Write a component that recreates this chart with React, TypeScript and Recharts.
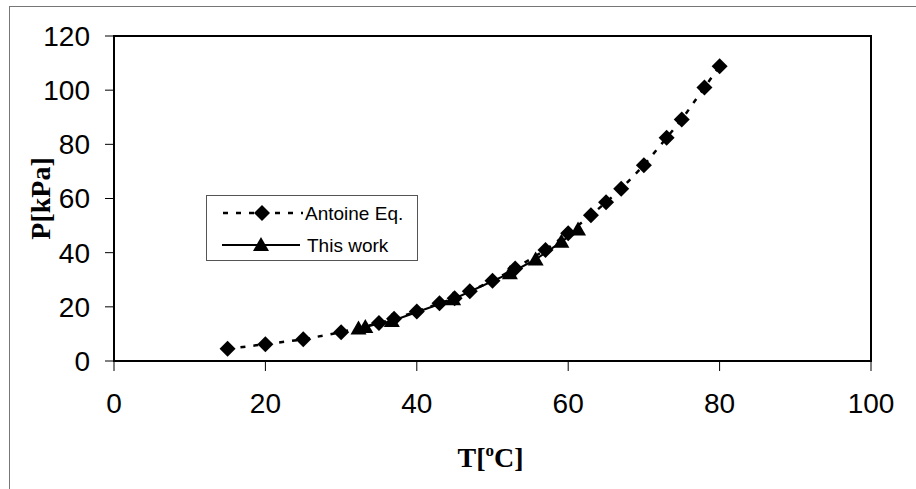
import React from 'react';
import { LineChart, Line, XAxis, YAxis, ReferenceArea } from 'recharts';

const antoineT = [15, 20, 25, 30, 35, 37, 40, 43, 45, 47, 50, 53, 57, 60, 63, 65, 67, 70, 73, 75, 78, 80];
const antoineP = [4.5, 6.2, 8.0, 10.6, 14.0, 15.6, 18.3, 21.3, 23.2, 25.8, 29.6, 34.2, 41.0, 47.2, 53.8, 58.6, 63.6, 72.3, 82.4, 89.2, 101, 108.8];
const workT = [32.3, 33.2, 36.7, 44.8, 52.3, 55.7, 59.1, 61.3];
const workP = [12.0, 12.6, 14.8, 22.8, 32.4, 37.5, 44.0, 48.6];
const xTicks = [0, 20, 40, 60, 80, 100];
const yTicks = [0, 20, 40, 60, 80, 100, 120];

const antoineData = antoineT.map((t, i) => ({ t, p: antoineP[i] }));
const workData = workT.map((t, i) => ({ t, p: workP[i] }));

const sans = "'Liberation Sans', Arial, sans-serif";
const serif = "'Liberation Serif', 'DejaVu Serif', serif";

const Diamond = (props: any) => {
  const { cx, cy } = props;
  if (cx == null || cy == null) return null;
  const r = 8;
  return <polygon points={`${cx},${cy - r} ${cx + r},${cy} ${cx},${cy + r} ${cx - r},${cy}`} fill="#000" />;
};

const Triangle = (props: any) => {
  const { cx, cy } = props;
  if (cx == null || cy == null) return null;
  return <polygon points={`${cx},${cy - 8} ${cx + 8},${cy + 6} ${cx - 8},${cy + 6}`} fill="#000" />;
};

const XTitle = (props: any) => {
  const { viewBox } = props;
  const cx = viewBox.x + viewBox.width / 2;
  return <text x={cx - 2} y={467} textAnchor="middle" fontFamily={serif} fontWeight="bold" fontSize={28} fill="#000">
      T[<tspan dy={-11} fontSize={17}>o</tspan><tspan dy={11}>C]</tspan>
    </text>;
};

const YTitle = (props: any) => {
  const { viewBox } = props;
  const cy = viewBox.y + viewBox.height / 2;
  return <text x={50} y={cy} transform={`rotate(-90, 50, ${cy})`} textAnchor="middle" fontFamily={serif} fontWeight="bold" fontSize={28} fill="#000">
      P[kPa]
    </text>;
};

// legend drawn as an overlay so it doesn't take room from the plot
const LegendBox = () => {
  return <svg width={213} height={67} style={{ display: 'block' }}>
      <rect x={0.5} y={0.5} width={211} height={65} fill="#fff" stroke="#555" strokeWidth={1} />
      <line x1={17} y1={18} x2={97} y2={18} stroke="#000" strokeWidth={2.5} strokeDasharray="5 8" />
      <Diamond cx={56} cy={18} />
      <text x={99} y={25} fontFamily={sans} fontSize={19} fill="#000">Antoine Eq.</text>
      <line x1={16} y1={50} x2={94} y2={50} stroke="#000" strokeWidth={2} />
      <Triangle cx={55} cy={50} />
      <text x={101} y={57} fontFamily={sans} fontSize={19} fill="#000">This work</text>
    </svg>;
};

const App = () => {
  return <div style={{ position: 'absolute', left: 0, top: 0, width: 916, height: 489, background: '#fff' }}>
      <div style={{ position: 'absolute', left: 9, top: 6, width: 906, height: 483, borderTop: '1px solid #777', borderLeft: '1px solid #777' }} />
      <LineChart width={916} height={489} margin={{ top: 36, right: 45, left: 54, bottom: 28 }}>
        <XAxis dataKey="t" type="number" domain={[0, 100]} ticks={xTicks} allowDataOverflow height={100} axisLine={false} tickLine={{ stroke: '#000' }} tickSize={10} tickMargin={22} tick={{ fill: '#000', fontSize: 28, fontFamily: sans }} label={<XTitle />} />
        <YAxis dataKey="p" type="number" domain={[0, 120]} ticks={yTicks} width={60} axisLine={false} tickLine={{ stroke: '#000' }} tickSize={9} tickMargin={15} tick={{ fill: '#000', fontSize: 28, fontFamily: sans }} label={<YTitle />} />
        <ReferenceArea x1={0} x2={100} y1={0} y2={120} fill="none" stroke="#000" strokeWidth={2} />
        <Line data={antoineData} dataKey="p" name="Antoine Eq." stroke="#000" strokeWidth={2.5} strokeDasharray="5 8" dot={<Diamond />} activeDot={false} isAnimationActive={false} />
        <Line data={workData} dataKey="p" name="This work" stroke="#000" strokeWidth={2} dot={<Triangle />} activeDot={false} isAnimationActive={false} />
      </LineChart>
      <div style={{ position: 'absolute', left: 206, top: 195 }}>
        <LegendBox />
      </div>
    </div>;
};

export default App;
